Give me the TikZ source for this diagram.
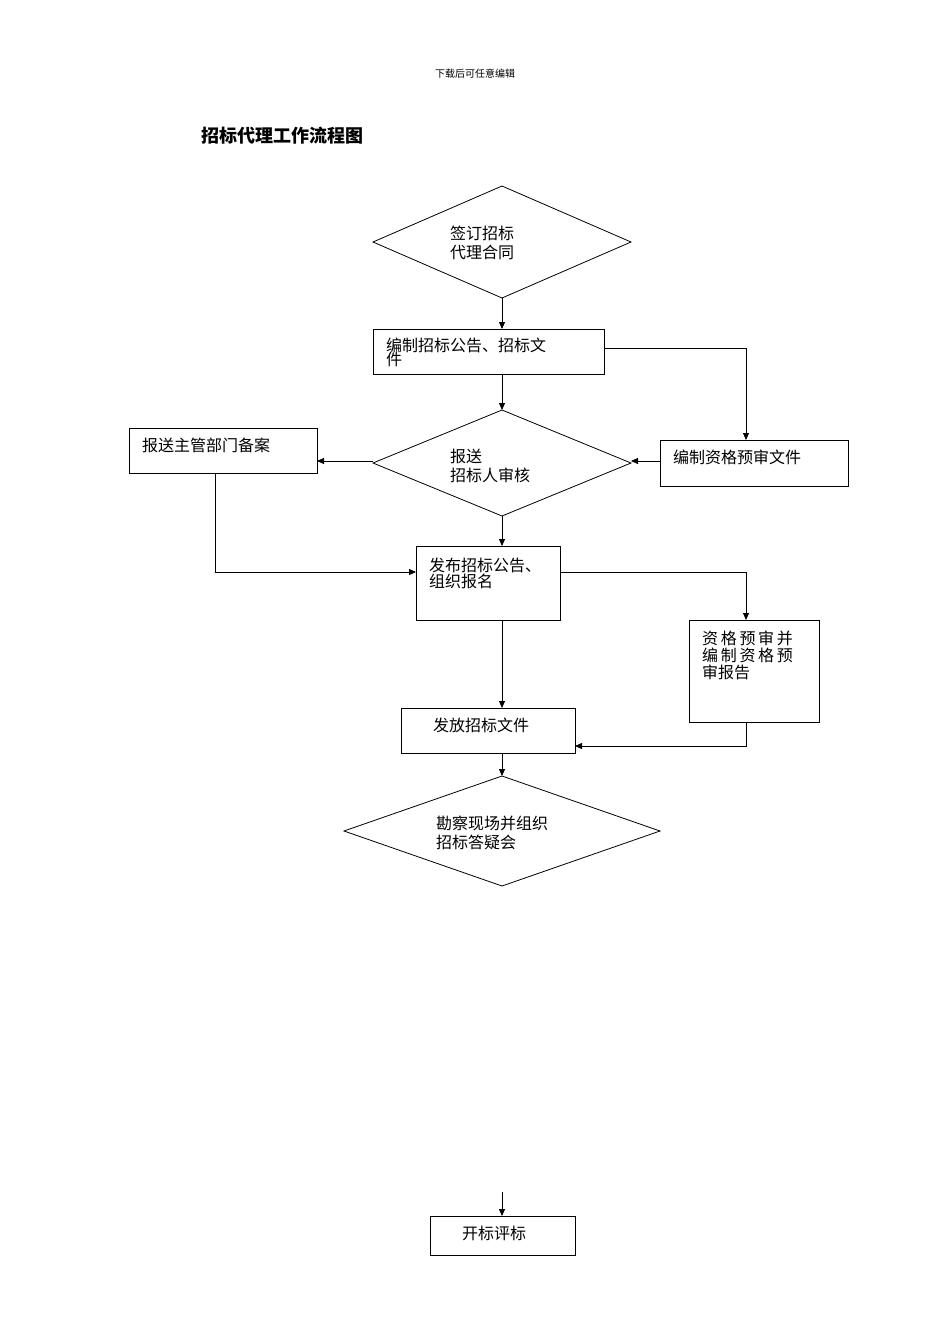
\documentclass[tikz,border=0pt]{standalone}
\usepackage{fontspec}
\setmainfont{Noto Sans CJK SC}
\usetikzlibrary{shapes.geometric,arrows.meta}
\begin{document}
\begin{tikzpicture}[x=1pt,y=-1pt,
  bx/.style={draw,line width=0.8pt},
  ln/.style={line width=0.8pt},
  ar/.style={line width=0.8pt,-{Triangle[length=7pt,width=6pt]}},
  tx/.style={anchor=west,font=\fontsize{16}{19}\selectfont,align=left,inner sep=0pt}]
\useasboundingbox (0,0) rectangle (950,1344);
\node[font=\fontsize{10}{12}\selectfont] (hdr) at (475,74) {下载后可任意编辑};
\node[font=\fontsize{18}{22}\selectfont\bfseries] (ttl) at (282,136) {招标代理工作流程图};
% diamond 1
\draw[bx] (373,242) -- (502,186) -- (631,242) -- (502,298) -- cycle;
\coordinate (d1t) at (502,298);
\node[tx] (t1) at (450,243) {签订招标\\代理合同};
% box1
\draw[bx] (373,329) rectangle (604,374);
\node[tx] (t2) at (386,352) {编制招标公告、招标文\\[-5pt]件};
\draw[ar] (502,298) -- (502,329);
\draw[ar] (604,348) -- (746,348) -- (746,440);
% box3
\draw[bx] (660,440) rectangle (848,486);
\node[tx] (t3) at (673,457) {编制资格预审文件};
% diamond2
\draw[bx] (373,463) -- (502,410) -- (631,463) -- (502,516) -- cycle;
\node[tx] (t4) at (450,466) {报送\\招标人审核};
\draw[ar] (502,374) -- (502,410);
\draw[ar] (660,461) -- (631,461);
\draw[ar] (373,461) -- (317,461);
% box2
\draw[bx] (129,428) rectangle (317,473);
\node[tx] (t5) at (142,445) {报送主管部门备案};
\draw[ar] (215,473) -- (215,572) -- (416,572);
\draw[ar] (502,516) -- (502,546);
% box4
\draw[bx] (416,546) rectangle (560,620);
\node[tx] (t6) at (429,573) {发布招标公告、\\[-3pt]组织报名};
\draw[ar] (560,572) -- (746,572) -- (746,620);
% box5
\draw[bx] (689,620) rectangle (819,722);
\node[tx] (t7) at (702,655) {资\,格\,预\,审\,并\\[-2pt]编\,制\,资\,格\,预\\[-2pt]审报告};
\draw[ar] (502,620) -- (502,708);
% box6
\draw[bx] (401,708) rectangle (575,753);
\node[tx] (t8) at (433,725) {发放招标文件};
\draw[ar] (746,722) -- (746,746) -- (575,746);
\draw[ar] (502,753) -- (502,776);
% diamond3
\draw[bx] (344,831) -- (502,776) -- (660,831) -- (502,886) -- cycle;
\node[tx] (t9) at (436,833) {勘察现场并组织\\招标答疑会};
% end
\draw[ar] (502,1192) -- (502,1216);
\draw[bx] (430,1216) rectangle (575,1255);
\node[tx] (t10) at (462,1233) {开标评标};
\end{tikzpicture}
\end{document}
